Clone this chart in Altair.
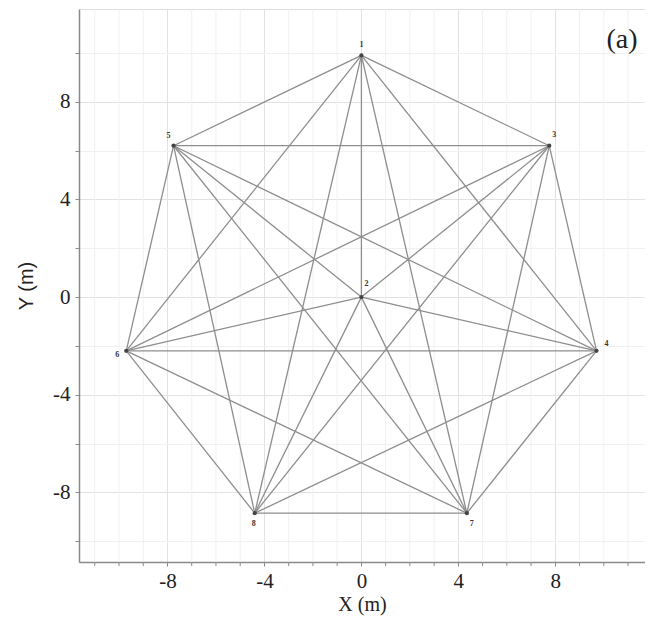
import itertools
import altair as alt
import pandas as pd

# Node labels and coordinates (m)
node_ids = ["1", "2", "3", "4", "5", "6", "7", "8"]
node_x = [0.0, 0.0, 7.75, 9.7, -7.75, -9.7, 4.35, -4.4]
node_y = [9.9, 0.0, 6.2, -2.2, 6.2, -2.2, -8.85, -8.85]

# Every pair of nodes is connected
edge_pairs = list(itertools.combinations(range(len(node_ids)), 2))

x_major = [-8, -4, 0, 4, 8]
x_minor = list(range(-11, 12))
y_ticks = list(range(-10, 12))

nodes = pd.DataFrame({"id": node_ids, "x": node_x, "y": node_y})
edges = pd.DataFrame({
    "x": [node_x[a] for a, b in edge_pairs],
    "y": [node_y[a] for a, b in edge_pairs],
    "x2": [node_x[b] for a, b in edge_pairs],
    "y2": [node_y[b] for a, b in edge_pairs],
})
xminor_df = pd.DataFrame({"v": x_minor})

PLOT_W, PLOT_H = 566, 553
MAJOR_GRID, MINOR_GRID = "#e2e2e2", "#f1f1f1"

grid_major = "datum.value % 4 === 0"
xscale = alt.Scale(domain=[-11.65, 11.7], nice=False, zero=False)
yscale = alt.Scale(domain=[-10.85, 11.8], nice=False, zero=False)

common_axis = dict(
    grid=True,
    gridWidth=1,
    domainColor="#8a8a8a",
    domainWidth=1.5,
    tickColor="#8a8a8a",
    tickSize=4,
    tickWidth=1,
    labelFont="Liberation Serif",
    labelFontSize=21,
    labelColor="#222222",
    labelOverlap=False,
    labelFlush=False,
    titleFontSize=20,
    titleFontWeight="normal",
    titleColor="#222222",
)

xaxis = alt.Axis(values=x_major, title="X (m)", titleFont="Liberation Serif",
                 titlePadding=3, labelPadding=4, gridColor=MAJOR_GRID,
                 labelExpr="toString(datum.value)",
                 **common_axis)
yaxis = alt.Axis(values=y_ticks, title="Y (m)", titleFont="Liberation Sans",
                 titlePadding=16, labelPadding=5,
                 gridColor=alt.condition(grid_major, alt.value(MAJOR_GRID), alt.value(MINOR_GRID)),
                 labelExpr="datum.value % 4 === 0 ? toString(datum.value) : ''",
                 **common_axis)

# minor vertical grid lines (non-multiples of 4)
minor_grid = alt.Chart(xminor_df).transform_filter("datum.v % 4 != 0").mark_rule(
    color=MINOR_GRID, strokeWidth=1
).encode(x=alt.X("v:Q", scale=xscale, axis=xaxis))

# minor tick marks below the x axis
minor_ticks = alt.Chart(xminor_df).transform_filter("datum.v % 4 != 0").mark_rule(
    color="#8a8a8a", strokeWidth=1
).encode(x=alt.X("v:Q", scale=xscale), y=alt.value(PLOT_H), y2=alt.value(PLOT_H + 4))

edge_layer = alt.Chart(edges).mark_rule(color="#8e8e8e", strokeWidth=1.3).encode(
    x=alt.X("x:Q", scale=xscale),
    y=alt.Y("y:Q", scale=yscale, axis=yaxis),
    x2="x2:Q",
    y2="y2:Q",
)

point_layer = alt.Chart(nodes).mark_circle(color="#444444", size=18, opacity=1).encode(
    x=alt.X("x:Q", scale=xscale),
    y=alt.Y("y:Q", scale=yscale),
)

def label_layer(ids, dx, dy):
    return alt.Chart(nodes).transform_filter(
        alt.FieldOneOfPredicate(field="id", oneOf=ids)
    ).mark_text(font="Liberation Serif", fontSize=8, color="#333333",
                dx=dx, dy=dy, fontWeight="bold").encode(
        x=alt.X("x:Q", scale=xscale),
        y=alt.Y("y:Q", scale=yscale),
        text="id:N",
    )

labels = [
    label_layer(["1"], 0, -10),
    label_layer(["5"], -5, -10),
    label_layer(["3"], 5, -11),
    label_layer(["2"], 5, -13),
    label_layer(["4"], 10, -7),
    label_layer(["6"], -9, 4),
    label_layer(["8"], -1, 11),
    label_layer(["7"], 5, 11),
]

panel_tag = alt.Chart(pd.DataFrame({"t": ["(a)"]})).mark_text(
    font="Liberation Serif", fontSize=28, color="#222222", align="center", baseline="middle"
).encode(x=alt.value(543), y=alt.value(31), text="t:N")

chart = alt.layer(minor_grid, minor_ticks, edge_layer, point_layer, *labels, panel_tag).properties(
    width=PLOT_W,
    height=PLOT_H,
    autosize=alt.AutoSizeParams(type="none"),
    padding={"left": 71, "top": 1, "right": 0, "bottom": 56},
).configure_view(
    stroke="#a6a6a6", strokeWidth=2.5
).configure(background="white")

chart.save("out.html", embed_options={"renderer": "svg", "actions": False})
